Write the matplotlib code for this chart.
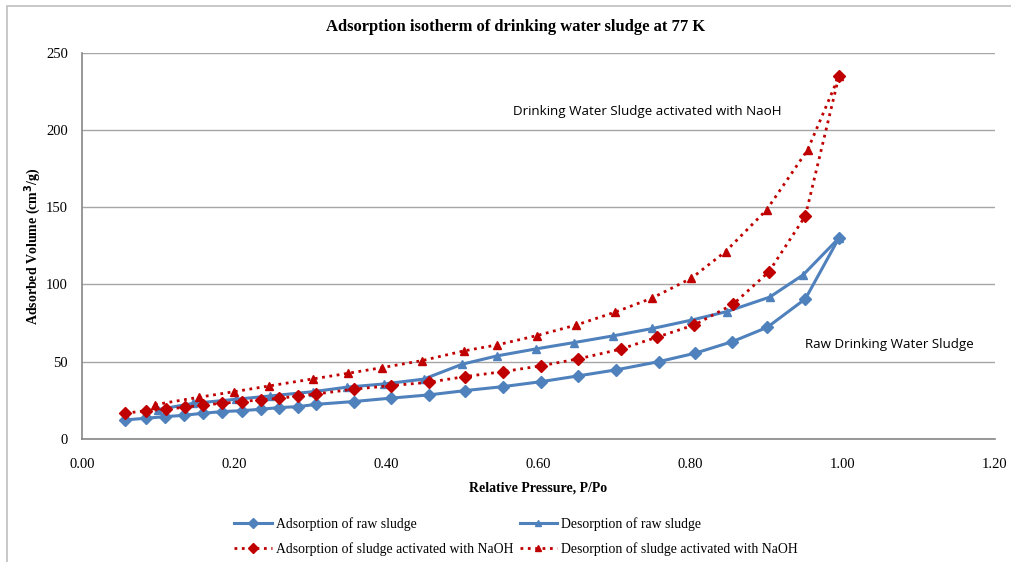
import matplotlib
matplotlib.use("Agg")
import matplotlib.pyplot as plt
from matplotlib.patches import Rectangle

# raw sludge
raw_ads_p = [0.057, 0.084, 0.109, 0.134, 0.159, 0.184, 0.210, 0.235, 0.259, 0.284, 0.308,
             0.357, 0.406, 0.456, 0.504, 0.554, 0.604, 0.652, 0.702, 0.758, 0.806, 0.855,
             0.901, 0.951, 0.995]
raw_ads_v = [12.3, 13.4, 14.4, 15.3, 16.6, 17.7, 18.3, 19.2, 20.3, 20.9, 22.4,
             24.2, 26.4, 28.5, 31.3, 33.9, 37.1, 40.8, 44.7, 50.0, 55.5, 63.0,
             72.3, 90.7, 130.0]
raw_des_p = [0.100, 0.146, 0.203, 0.247, 0.304, 0.348, 0.397, 0.449, 0.500, 0.546, 0.597,
             0.647, 0.698, 0.750, 0.801, 0.848, 0.904, 0.948, 0.995]
raw_des_v = [19.0, 23.0, 25.7, 27.8, 30.6, 33.5, 35.6, 38.7, 48.4, 53.8, 58.3,
             62.4, 66.7, 71.5, 76.9, 82.5, 91.8, 106.2, 130.0]

# NaOH activated sludge
naoh_ads_p = [0.057, 0.084, 0.110, 0.135, 0.159, 0.184, 0.210, 0.235, 0.259, 0.284, 0.308,
              0.357, 0.406, 0.456, 0.504, 0.554, 0.603, 0.652, 0.708, 0.756, 0.805, 0.856,
              0.903, 0.951, 0.995]
naoh_ads_v = [16.6, 18.3, 19.2, 20.5, 22.0, 23.0, 24.2, 25.3, 26.3, 27.8, 29.1,
              32.2, 34.5, 36.7, 40.4, 43.6, 47.3, 51.8, 58.1, 65.9, 73.8, 87.2,
              108.2, 144.4, 234.7]
naoh_des_p = [0.096, 0.154, 0.200, 0.246, 0.304, 0.350, 0.395, 0.447, 0.502, 0.546, 0.598,
              0.650, 0.701, 0.749, 0.801, 0.846, 0.900, 0.954, 0.995]
naoh_des_v = [22.2, 27.0, 30.6, 34.3, 38.9, 42.5, 46.2, 50.7, 57.0, 60.9, 66.9,
              73.8, 82.1, 91.1, 104.0, 121.3, 148.3, 187.2, 234.7]

x_ticks = [0.0, 0.2, 0.4, 0.6, 0.8, 1.0, 1.2]
y_ticks = [0, 50, 100, 150, 200, 250]

blue = '#4F81BD'
red = '#C00000'
serif = 'Liberation Serif'

fig = plt.figure(figsize=(10.12, 5.62), dpi=100)
fig.patches.append(Rectangle((0.007, -0.01), 1.2, 1.0, transform=fig.transFigure,
                             fill=False, edgecolor='#BFBFBF', lw=1.2))
ax = fig.add_axes([0.081, 0.219, 0.902, 0.687])

l1, = ax.plot(raw_ads_p, raw_ads_v, color=blue, lw=2.2, marker='D', ms=6,
              label='Adsorption of raw sludge')
l2, = ax.plot(raw_des_p, raw_des_v, color=blue, lw=2.2, marker='^', ms=6,
              label='Desorption of raw sludge')
l3, = ax.plot(naoh_ads_p, naoh_ads_v, color=red, lw=2.0, ls=':', marker='D', ms=6,
              label='Adsorption of sludge activated with NaOH')
l4, = ax.plot(naoh_des_p, naoh_des_v, color=red, lw=2.0, ls=':', marker='^', ms=6,
              label='Desorption of sludge activated with NaOH')

ax.set_xlim(0, 1.2)
ax.set_ylim(0, 250)
ax.set_xticks(x_ticks)
ax.set_xticklabels(['%.2f' % t for t in x_ticks], fontfamily=serif, fontsize=10.5)
ax.set_yticks(y_ticks)
ax.set_yticklabels([str(t) for t in y_ticks], fontfamily=serif, fontsize=10.5)
ax.tick_params(axis='x', length=0, pad=14)
ax.tick_params(axis='y', length=0, pad=10)
ax.yaxis.grid(True, color='#A6A6A6', lw=1)
ax.set_axisbelow(True)
for s in ['top', 'right']:
    ax.spines[s].set_visible(False)
for s in ['left', 'bottom']:
    ax.spines[s].set_color('#868686')
    ax.spines[s].set_linewidth(1.2)

ax.set_xlabel('Relative Pressure, P/Po', fontfamily=serif, fontweight='bold',
              fontsize=10, labelpad=7.5)
ax.set_ylabel('Adsorbed Volume (cm$^\\mathbf{3}$/g)', fontfamily=serif, fontweight='bold',
              fontsize=10, labelpad=2)
fig.text(0.51, 0.952, 'Adsorption isotherm of drinking water sludge at 77 K',
         ha='center', va='center', fontfamily=serif, fontweight='bold', fontsize=12)

ax.text(0.567, 212, 'Drinking Water Sludge activated with NaoH', fontfamily='Open Sans',
        fontsize=9.6, va='center')
ax.text(0.951, 61, 'Raw Drinking Water Sludge', fontfamily='Open Sans',
        fontsize=9.6, va='center')

# legend fills column-wise, so order handles to get the reference row layout
fig.legend([l1, l3, l2, l4], [l1.get_label(), l3.get_label(), l2.get_label(), l4.get_label()],
           loc='center', bbox_to_anchor=(0.51, 0.0454), ncol=2, frameon=False,
           prop={'family': serif, 'size': 9.9}, handlelength=2.7, columnspacing=0.5,
           handletextpad=0.3, labelspacing=0.79, markerscale=0.8)

fig.savefig('out.png', dpi=100)
